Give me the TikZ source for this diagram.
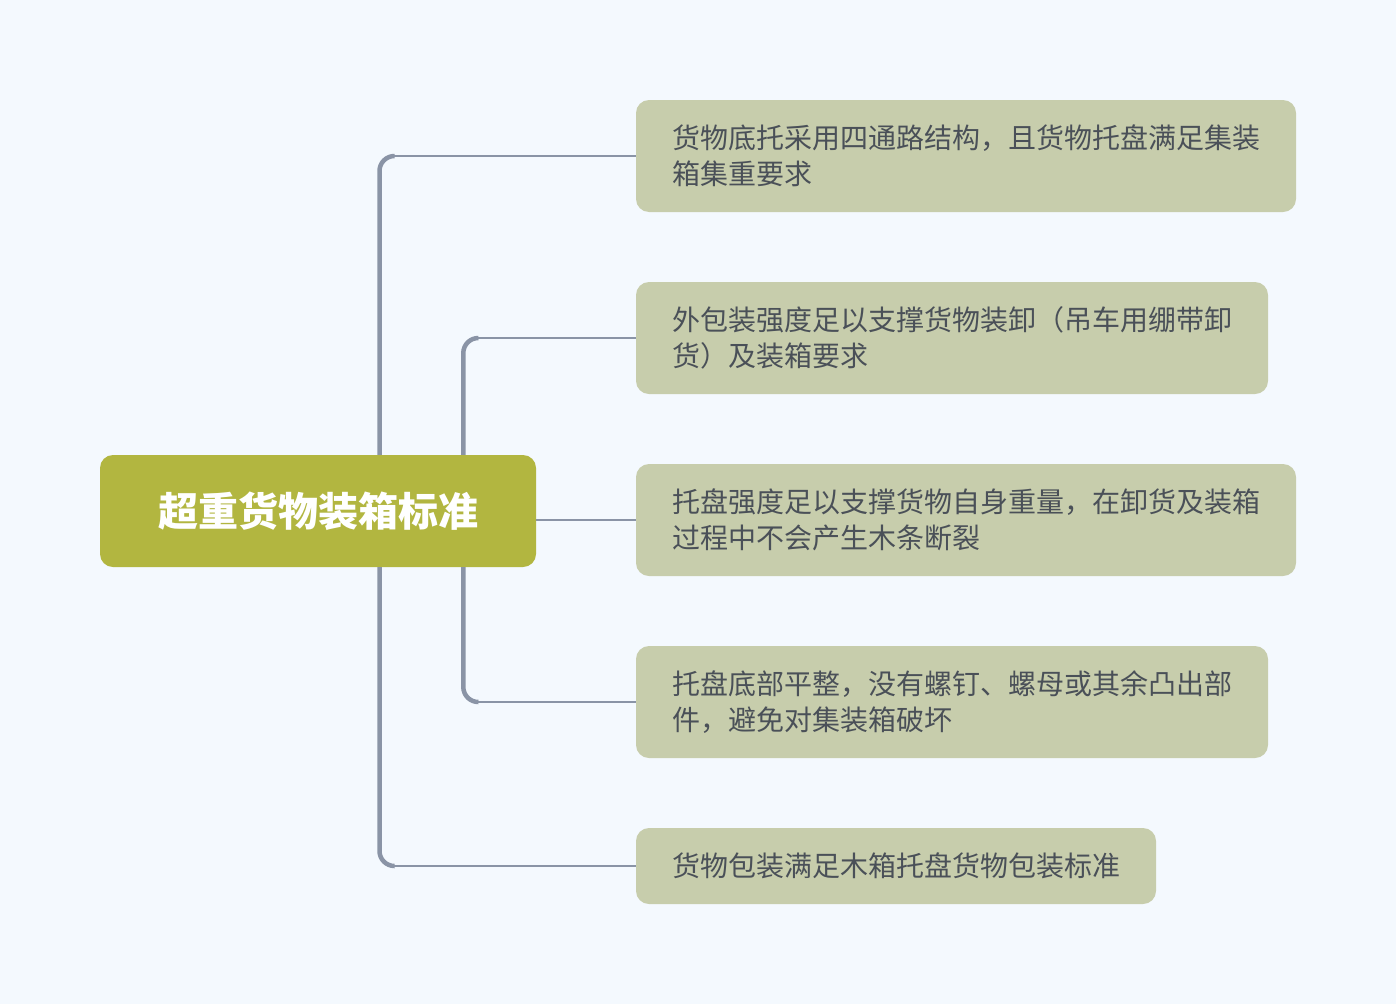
\documentclass[tikz,border=0pt]{standalone}
\usepackage{fontspec}
\newfontfamily\cjk{Noto Sans CJK SC}
\definecolor{bg}{HTML}{F4F9FE}
\definecolor{rootfill}{HTML}{B2B640}
\definecolor{childfill}{HTML}{C7CDAC}
\definecolor{txt}{HTML}{4A5058}
\definecolor{conn}{HTML}{8A94A6}
\begin{document}
\begin{tikzpicture}[x=1pt,y=-1pt,
  rootbox/.style={rectangle, rounded corners=13pt, fill=rootfill, text=white,
    font=\cjk\bfseries\fontsize{40}{48}\selectfont, inner sep=0pt,
    minimum width=436pt, minimum height=112pt},
  childbox/.style={rectangle, rounded corners=13pt, fill=childfill, text=txt,
    font=\cjk\fontsize{28}{36}\selectfont, align=left, inner sep=0pt,
    minimum height=112pt},
  trunk/.style={draw=conn, line width=4.5pt, rounded corners=15pt},
  branch/.style={draw=conn, line width=2pt}]
\fill[bg] (0,0) rectangle (1396,1004);
\useasboundingbox (0,0) rectangle (1396,1004);

\coordinate (bo) at (379.5,0);
\coordinate (bi) at (463.3,0);

% branches (behind nodes)
\node[childbox, minimum width=660pt] (c1) at (966,156) {货物底托采用四通路结构，且货物托盘满足集装\\箱集重要求};
\node[childbox, minimum width=632pt] (c2) at (952,338) {外包装强度足以支撑货物装卸（吊车用绷带卸\\货）及装箱要求};
\node[childbox, minimum width=660pt] (c3) at (966,520) {托盘强度足以支撑货物自身重量，在卸货及装箱\\过程中不会产生木条断裂};
\node[childbox, minimum width=632pt] (c4) at (952,702) {托盘底部平整，没有螺钉、螺母或其余凸出部\\件，避免对集装箱破坏};
\node[childbox, minimum width=520pt, minimum height=76pt] (c5) at (896,866) {货物包装满足木箱托盘货物包装标准};

\node[rootbox] (root) at (318,511) {超重货物装箱标准};

% outer top
\draw[trunk] (root.north -| bo) |- ([xshift=-241.5pt]c1.west);
\draw[branch] ([xshift=-242.5pt]c1.west) -- (c1.west);
% inner top
\draw[trunk] (root.north -| bi) |- ([xshift=-157.7pt]c2.west);
\draw[branch] ([xshift=-158.7pt]c2.west) -- (c2.west);
% middle
\draw[branch] (root.east |- c3.west) -- (c3.west);
% inner bottom
\draw[trunk] (root.south -| bi) |- ([xshift=-157.7pt]c4.west);
\draw[branch] ([xshift=-158.7pt]c4.west) -- (c4.west);
% outer bottom
\draw[trunk] (root.south -| bo) |- ([xshift=-241.5pt]c5.west);
\draw[branch] ([xshift=-242.5pt]c5.west) -- (c5.west);
\end{tikzpicture}
\end{document}
